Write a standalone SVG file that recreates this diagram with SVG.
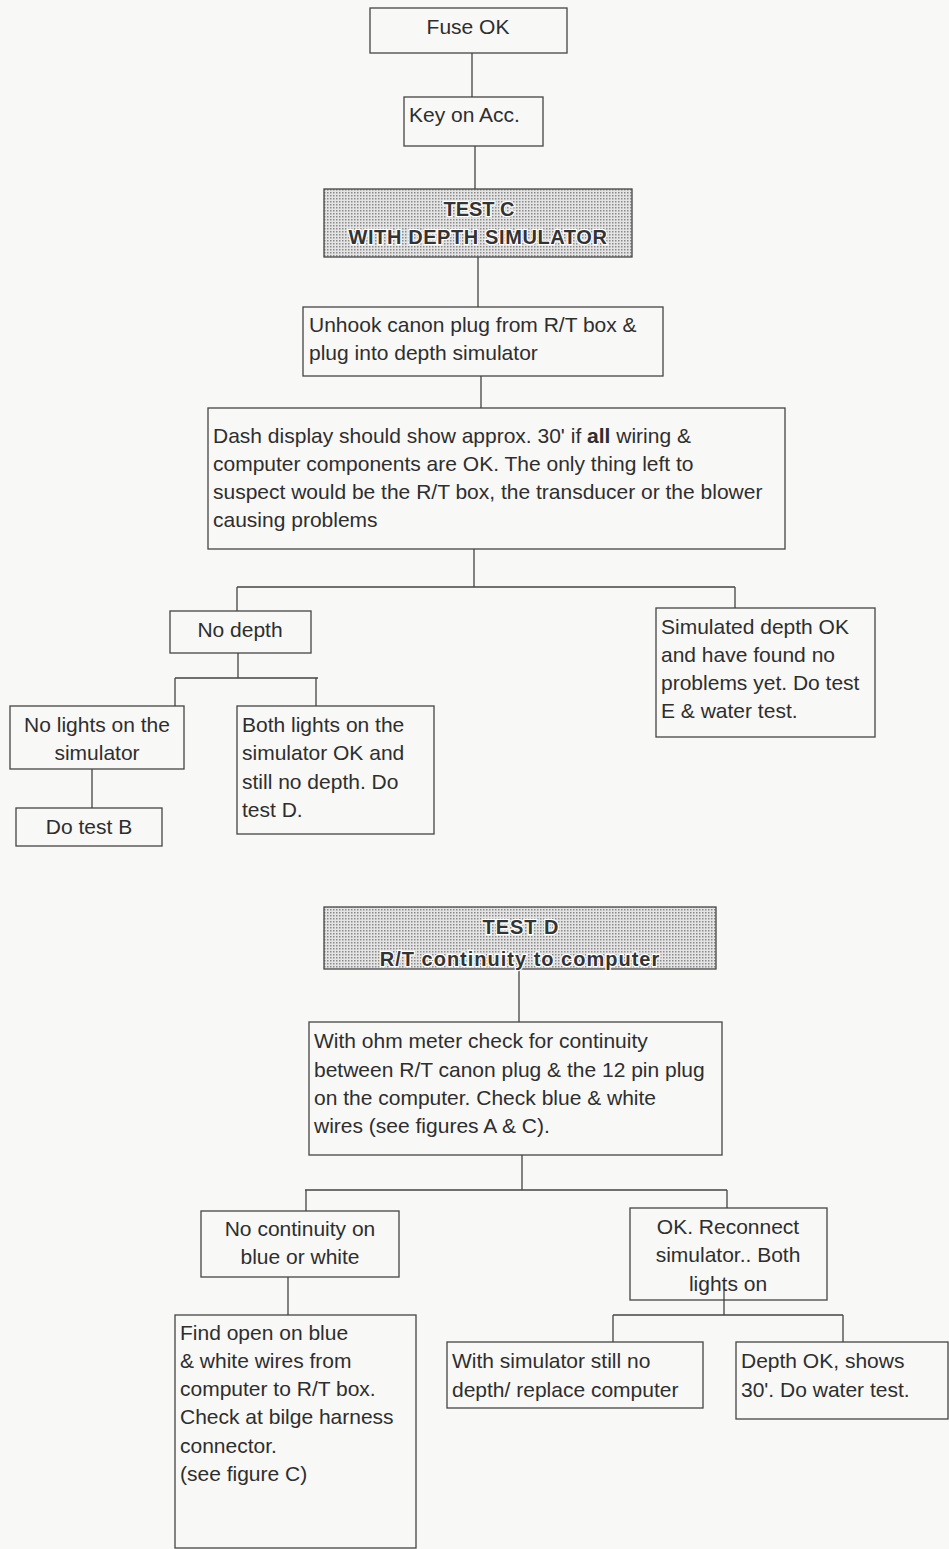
<svg xmlns="http://www.w3.org/2000/svg" width="949" height="1549" viewBox="0 0 949 1549">
<defs>
<pattern id="dots" width="3" height="3" patternUnits="userSpaceOnUse">
<rect width="3" height="3" fill="#e4e4e4"/>
<rect x="0" y="0" width="1.5" height="1.5" fill="#8a8a8a"/>
</pattern>
</defs>
<style>
.box{fill:none;stroke:#444;stroke-width:1.3}
.hdr{fill:url(#dots);stroke:#444;stroke-width:1.3}
.t{font-family:"Liberation Sans",Arial,sans-serif;font-size:21px;fill:#2e2e2e}
.c{text-anchor:middle}
.h{font-family:"Liberation Sans",Arial,sans-serif;font-size:20px;font-weight:bold;fill:#333;text-anchor:middle;stroke:#fff;stroke-width:2.5;paint-order:stroke}
.ln{fill:none;stroke:#444;stroke-width:1.3}
</style>
<rect width="949" height="1549" fill="#f8f8f6"/>
<g id="connectors">
<path class="ln" d="M472,53V97 M475,146V189 M478,257V307 M481,376V408 M474,549V587 M237,587H735 M237,587V611 M735,587V608 M238,653V678 M175,678H318 M175,678V706 M316,678V706 M92,769V808"/>
<path class="ln" d="M519,969V1022 M522,1155V1190 M305,1190H727 M306,1190V1211 M727,1190V1208 M288,1277V1315 M724,1290V1315 M613,1315H843 M613,1315V1342 M843,1315V1342"/>
</g>
<g id="fuse"><rect class="box" x="370" y="8" width="197" height="45"/><text class="t c" x="468" y="34">Fuse OK</text></g>
<g id="key"><rect class="box" x="404" y="97" width="139" height="49"/><text class="t" x="409" y="122">Key on Acc.</text></g>
<g id="testc"><rect class="hdr" x="324" y="189" width="308" height="68"/><text class="h" x="479" y="216">TEST C</text><text class="h" x="478" y="244" font-size="22" letter-spacing="0.6">WITH DEPTH SIMULATOR</text></g>
<g id="unhook"><rect class="box" x="303" y="307" width="360" height="69"/><text class="t" x="309" y="332">Unhook canon plug from R/T box &amp;</text><text class="t" x="309" y="360">plug into depth simulator</text></g>
<g id="dash"><rect class="box" x="208" y="408" width="577" height="141"/>
<text class="t" x="213" y="443">Dash display should show approx. 30' if <tspan font-weight="bold">all</tspan> wiring &amp;</text>
<text class="t" x="213" y="471">computer components are OK.  The only thing left to</text>
<text class="t" x="213" y="499">suspect would be the R/T box, the transducer or the blower</text>
<text class="t" x="213" y="527">causing problems</text></g>
<g id="nodepth"><rect class="box" x="170" y="611" width="141" height="42"/><text class="t c" x="240" y="637">No depth</text></g>
<g id="simok"><rect class="box" x="656" y="608" width="219" height="129"/>
<text class="t" x="661" y="634">Simulated depth OK</text>
<text class="t" x="661" y="662">and have found no</text>
<text class="t" x="661" y="690">problems yet. Do test</text>
<text class="t" x="661" y="718">E &amp; water test.</text></g>
<g id="nolights"><rect class="box" x="10" y="706" width="174" height="63"/><text class="t c" x="97" y="732">No lights on the</text><text class="t c" x="97" y="760">simulator</text></g>
<g id="bothlights"><rect class="box" x="237" y="706" width="197" height="128"/>
<text class="t" x="242" y="732">Both lights on the</text>
<text class="t" x="242" y="760">simulator OK and</text>
<text class="t" x="242" y="789">still no depth. Do</text>
<text class="t" x="242" y="817">test D.</text></g>
<g id="testb"><rect class="box" x="16" y="808" width="146" height="38"/><text class="t c" x="89" y="834">Do test B</text></g>
<g id="testd"><rect class="hdr" x="324" y="907" width="392" height="62"/><text class="h" x="521" y="934" font-size="24" letter-spacing="1">TEST D</text><text class="h" x="520" y="966" font-size="27.5" letter-spacing="1">R/T continuity to computer</text></g>
<g id="ohm"><rect class="box" x="309" y="1022" width="413" height="133"/>
<text class="t" x="314" y="1048">With ohm meter check for continuity</text>
<text class="t" x="314" y="1077">between R/T canon plug &amp; the 12 pin plug</text>
<text class="t" x="314" y="1105">on the computer. Check blue &amp; white</text>
<text class="t" x="314" y="1133">wires (see figures A &amp; C).</text></g>
<g id="nocont"><rect class="box" x="201" y="1211" width="198" height="66"/><text class="t c" x="300" y="1236">No continuity on</text><text class="t c" x="300" y="1264">blue or white</text></g>
<g id="okrecon"><rect class="box" x="630" y="1208" width="197" height="92"/><text class="t c" x="728" y="1234">OK. Reconnect</text><text class="t c" x="728" y="1262">simulator.. Both</text><text class="t c" x="728" y="1291">lights on</text></g>
<g id="findopen"><rect class="box" x="175" y="1315" width="241" height="233"/>
<text class="t" x="180" y="1340">Find open on blue</text>
<text class="t" x="180" y="1368">&amp; white wires from</text>
<text class="t" x="180" y="1396">computer to R/T box.</text>
<text class="t" x="180" y="1424">Check at bilge harness</text>
<text class="t" x="180" y="1453">connector.</text>
<text class="t" x="180" y="1481">(see figure C)</text></g>
<g id="replace"><rect class="box" x="447" y="1342" width="256" height="66"/><text class="t" x="452" y="1368">With simulator still no</text><text class="t" x="452" y="1397">depth/ replace computer</text></g>
<g id="depthok"><rect class="box" x="736" y="1342" width="212" height="77"/><text class="t" x="741" y="1368">Depth OK, shows</text><text class="t" x="741" y="1397">30'. Do water test.</text></g>
</svg>
